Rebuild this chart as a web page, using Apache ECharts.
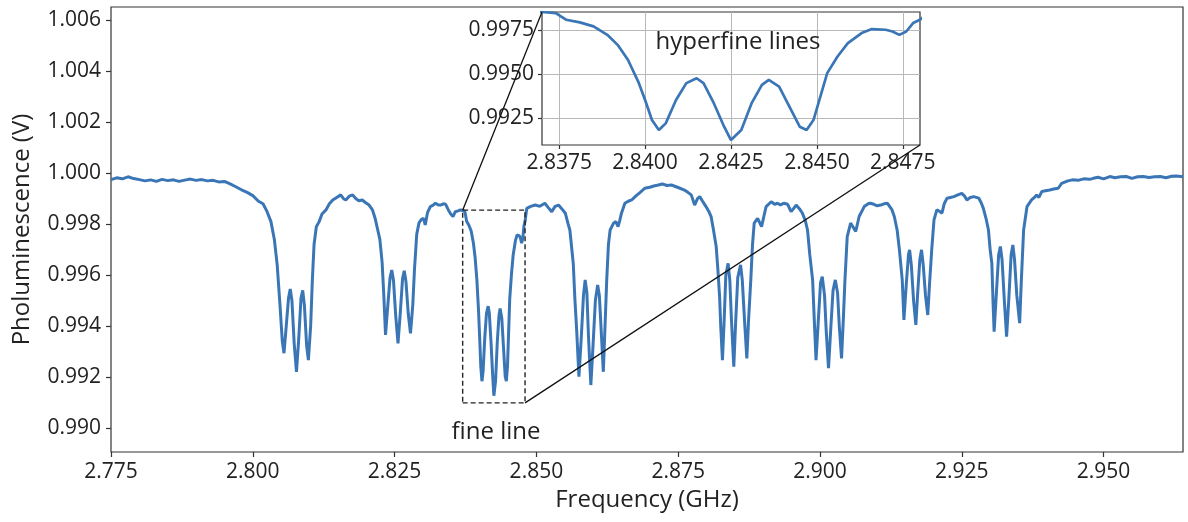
<!DOCTYPE html>
<html>
<head>
<meta charset="utf-8">
<script src="https://cdn.jsdelivr.net/npm/echarts@6/dist/echarts.min.js"></script>
<style>
html,body{margin:0;padding:0;background:#fff;}
#c{width:1188px;height:522px;}
</style>
</head>
<body>
<div id="c"></div>
<script>
// ---- data ----
const freq = [
2.7750,2.7760,2.7770,2.7780,2.7790,2.7800,2.7810,2.7820,2.7830,2.7840,2.7850,2.7860,2.7870,2.7880,2.7890,2.7900,2.7910,2.7920,2.7930,2.7940,2.7950,2.7960,2.7970,2.7980,2.7990,2.8000,2.8010,2.8018,2.8025,2.8032,2.8038,2.8043,2.8048,2.8052,2.8055,2.8059,2.8063,2.8066,2.8069,2.8073,2.8077,2.8081,2.8085,2.8088,2.8091,2.8095,2.8098,2.8102,2.8105,2.8108,2.8112,2.8117,2.8122,2.8129,2.8135,2.8141,2.8148,2.8155,2.8160,2.8164,2.8170,2.8176,2.8182,2.8187,2.8193,2.8199,2.8205,2.8211,2.8216,2.8220,2.8224,2.8228,2.8231,2.8234,2.8238,2.8242,2.8245,2.8248,2.8252,2.8256,2.8260,2.8264,2.8267,2.8270,2.8274,2.8278,2.8282,2.8285,2.8289,2.8293,2.8297,2.8301,2.8304,2.8308,2.8313,2.8318,2.8322,2.8327,2.8331,2.8336,2.8340,2.8345,2.8349,2.8353,2.8357,2.8362,2.8366,
2.8370,2.8374,2.8377,2.8381,2.8385,2.8389,2.8392,2.8395,2.8398,2.8400,2.8402,2.8404,2.8406,2.8409,2.8412,2.8415,2.8417,2.8420,2.8423,2.8425,2.8428,2.8431,2.8434,2.8436,2.8439,2.8442,2.8445,2.8447,2.8449,2.8451,2.8453,2.8456,2.8459,2.8463,2.8466,2.8470,2.8472,2.8474,2.8476,2.8478,2.8480,
2.8483,2.8490,2.8498,2.8506,2.8515,2.8521,2.8527,2.8533,2.8539,2.8545,2.8551,2.8556,2.8559,2.8565,2.8568,2.8571,2.8575,2.8579,2.8583,2.8586,2.8589,2.8592,2.8596,2.8600,2.8604,2.8608,2.8611,2.8615,2.8618,2.8621,2.8624,2.8627,2.8630,2.8636,2.8640,2.8644,2.8647,2.8650,2.8656,2.8662,2.8668,2.8675,2.8683,2.8691,2.8700,2.8707,2.8715,2.8722,2.8730,2.8738,2.8745,2.8752,2.8761,2.8767,2.8773,2.8779,2.8784,2.8788,2.8793,2.8799,2.8804,2.8808,2.8812,2.8817,2.8820,2.8823,2.8825,2.8828,2.8831,2.8834,2.8838,2.8841,2.8844,2.8848,2.8851,2.8855,2.8860,2.8863,2.8867,2.8871,2.8874,2.8878,2.8881,2.8884,2.8890,2.8897,2.8901,2.8905,2.8914,2.8920,2.8925,2.8930,2.8936,2.8943,2.8949,2.8953,2.8958,2.8964,2.8969,2.8974,2.8978,2.8982,2.8987,2.8990,2.8993,2.8997,2.9001,2.9004,2.9008,2.9011,2.9015,2.9019,2.9023,2.9027,2.9031,2.9034,2.9038,2.9041,2.9044,2.9048,2.9054,2.9058,2.9063,2.9069,2.9078,2.9085,2.9089,2.9095,2.9101,2.9107,2.9113,2.9119,2.9127,2.9131,2.9136,2.9140,2.9145,2.9148,2.9152,2.9156,2.9158,2.9161,2.9165,2.9169,2.9172,2.9176,2.9179,2.9182,2.9186,2.9190,2.9193,2.9197,2.9201,2.9206,2.9211,2.9215,2.9219,2.9224,2.9230,2.9236,2.9243,2.9250,2.9255,2.9259,2.9265,2.9271,2.9280,2.9284,2.9288,2.9293,2.9297,2.9300,2.9303,2.9305,2.9307,2.9311,2.9315,2.9318,2.9321,2.9325,2.9329,2.9333,2.9337,2.9340,2.9343,2.9347,2.9352,2.9355,2.9359,2.9365,2.9373,2.9378,2.9382,2.9386,2.9391,2.9400,2.9405,2.9412,2.9420,2.9426,2.9429,2.9437,2.9445,2.9455,2.9465,2.9475,2.9482,2.9490,2.9500,2.9511,2.9520,2.9530,2.9540,2.9550,2.9560,2.9570,2.9580,2.9590,2.9600,2.9610,2.9620,2.9628,2.9640
];
const pl = [
0.99975,0.99982,0.99978,0.99986,0.99979,0.99975,0.99970,0.99974,0.99968,0.99976,0.99971,0.99974,0.99968,0.99973,0.99977,0.99972,0.99975,0.99970,0.99972,0.99966,0.99968,0.99958,0.99947,0.99935,0.99925,0.99912,0.99890,0.99880,0.99850,0.99810,0.99740,0.99640,0.99480,0.99340,0.99293,0.99400,0.99510,0.99545,0.99500,0.99330,0.99220,0.99350,0.99510,0.99540,0.99480,0.99320,0.99266,0.99400,0.99581,0.99720,0.99790,0.99810,0.99840,0.99856,0.99880,0.99895,0.99905,0.99915,0.99900,0.99895,0.99910,0.99915,0.99900,0.99892,0.99895,0.99884,0.99875,0.99856,0.99820,0.99780,0.99740,0.99650,0.99520,0.99365,0.99480,0.99590,0.99620,0.99580,0.99440,0.99332,0.99450,0.99585,0.99617,0.99575,0.99450,0.99371,0.99480,0.99620,0.99760,0.99805,0.99818,0.99823,0.99797,0.99845,0.99869,0.99875,0.99882,0.99875,0.99875,0.99880,0.99878,0.99855,0.99840,0.99830,0.99849,0.99852,0.99856,
0.99855,0.99849,0.99811,0.99796,0.99773,0.99725,0.99668,0.99583,0.99459,0.99354,0.99240,0.99183,0.99221,0.99354,0.99450,0.99478,0.99450,0.99336,0.99202,0.99126,0.99183,0.99336,0.99440,0.99469,0.99430,0.99316,0.99202,0.99183,0.99240,0.99373,0.99507,0.99602,0.99678,0.99735,0.99758,0.99754,0.99744,0.99725,0.99744,0.99792,0.99811,
0.99862,0.99870,0.99875,0.99870,0.99882,0.99865,0.99849,0.99870,0.99875,0.99860,0.99843,0.99800,0.99777,0.99646,0.99500,0.99384,0.99201,0.99350,0.99520,0.99581,0.99530,0.99350,0.99168,0.99330,0.99500,0.99561,0.99520,0.99350,0.99220,0.99400,0.99581,0.99720,0.99777,0.99804,0.99810,0.99790,0.99815,0.99843,0.99882,0.99890,0.99895,0.99910,0.99925,0.99941,0.99945,0.99950,0.99954,0.99958,0.99952,0.99954,0.99948,0.99942,0.99934,0.99925,0.99915,0.99875,0.99900,0.99908,0.99890,0.99869,0.99850,0.99830,0.99780,0.99712,0.99620,0.99515,0.99400,0.99266,0.99420,0.99600,0.99646,0.99580,0.99420,0.99240,0.99400,0.99590,0.99640,0.99580,0.99420,0.99273,0.99420,0.99581,0.99720,0.99804,0.99823,0.99790,0.99830,0.99869,0.99888,0.99878,0.99882,0.99876,0.99882,0.99878,0.99849,0.99860,0.99875,0.99860,0.99843,0.99815,0.99777,0.99680,0.99581,0.99420,0.99266,0.99420,0.99570,0.99594,0.99520,0.99380,0.99234,0.99390,0.99540,0.99581,0.99530,0.99400,0.99273,0.99420,0.99581,0.99751,0.99804,0.99790,0.99771,0.99830,0.99869,0.99880,0.99882,0.99878,0.99872,0.99875,0.99880,0.99882,0.99856,0.99830,0.99777,0.99700,0.99581,0.99424,0.99560,0.99680,0.99699,0.99640,0.99500,0.99404,0.99520,0.99660,0.99699,0.99640,0.99520,0.99443,0.99560,0.99700,0.99817,0.99856,0.99850,0.99843,0.99880,0.99902,0.99905,0.99908,0.99915,0.99921,0.99910,0.99895,0.99905,0.99908,0.99902,0.99885,0.99862,0.99820,0.99777,0.99700,0.99646,0.99500,0.99378,0.99530,0.99680,0.99712,0.99660,0.99500,0.99358,0.99510,0.99680,0.99718,0.99660,0.99520,0.99411,0.99580,0.99777,0.99869,0.99895,0.99905,0.99915,0.99905,0.99928,0.99932,0.99934,0.99938,0.99941,0.99960,0.99967,0.99970,0.99974,0.99972,0.99978,0.99976,0.99980,0.99984,0.99978,0.99987,0.99982,0.99986,0.99987,0.99980,0.99986,0.99987,0.99983,0.99986,0.99987,0.99982,0.99988,0.99989,0.99986
];
const mainXRange = [2.775, 2.964];
const mainYRange = [0.98905, 1.00653];
const mainXTicks = [2.775, 2.800, 2.825, 2.850, 2.875, 2.900, 2.925, 2.950];
const mainYTicks = [0.990, 0.992, 0.994, 0.996, 0.998, 1.000, 1.002, 1.004, 1.006];
const insetX = [2.837, 2.848];
const insetY = [0.99098, 0.99855];
const insetXTicks = [2.8375, 2.8400, 2.8425, 2.8450, 2.8475];
const insetYTicks = [0.9925, 0.9950, 0.9975];
const xTitle = 'Frequency (GHz)';
const yTitle = 'Pholuminescence (V)';
const insetLabel = 'hyperfine lines';
const boxLabel = 'fine line';

// ---- chart ----
const FONT = 'Open Sans';
const TXT = '#222';
const AX = '#333';
const BLUE = '#3a76b6';
const pts = freq.map((f, i) => [f, pl[i]]);
const boxPts = [[insetX[0], insetY[0]], [insetX[1], insetY[0]], [insetX[1], insetY[1]], [insetX[0], insetY[1]], [insetX[0], insetY[0]]];

const chart = echarts.init(document.getElementById('c'), null, {renderer: 'canvas'});
const tickStyle = {color: AX, width: 1.2};
const option = {
  backgroundColor: '#fff',
  animation: false,
  grid: [
    {left: 111, top: 7, width: 1072, height: 445, show: true, borderColor: AX, borderWidth: 1.2, backgroundColor: 'transparent', outerBoundsMode: 'none', containLabel: false},
    {left: 542, top: 12, width: 378, height: 133, show: true, borderColor: AX, borderWidth: 1.2, backgroundColor: '#fff', outerBoundsMode: 'none', containLabel: false, z: 5}
  ],
  xAxis: [
    {type: 'value', gridIndex: 0, min: mainXRange[0], max: mainXRange[1],
     axisLine: {show: false}, splitLine: {show: false},
     axisTick: {show: true, length: 5, lineStyle: tickStyle, customValues: mainXTicks},
     axisLabel: {customValues: mainXTicks, formatter: v => v.toFixed(3), color: TXT, fontFamily: FONT, fontSize: 21, margin: 10},
     name: xTitle, nameLocation: 'middle', nameGap: 33, nameTextStyle: {color: TXT, fontFamily: FONT, fontSize: 24}},
    {type: 'value', gridIndex: 1, min: insetX[0], max: insetX[1], z: 6,
     axisLine: {show: false},
     splitLine: {show: true, lineStyle: {color: '#b8b8b8', width: 1}},
     axisTick: {show: true, length: 4, lineStyle: tickStyle, customValues: insetXTicks},
     axisLabel: {customValues: insetXTicks, formatter: v => v.toFixed(4), color: TXT, fontFamily: FONT, fontSize: 21, margin: 8, hideOverlap: false}}
  ],
  yAxis: [
    {type: 'value', gridIndex: 0, min: mainYRange[0], max: mainYRange[1],
     axisLine: {show: false}, splitLine: {show: false},
     axisTick: {show: true, length: 5, lineStyle: tickStyle, customValues: mainYTicks},
     axisLabel: {customValues: mainYTicks, formatter: v => v.toFixed(3), color: TXT, fontFamily: FONT, fontSize: 21, margin: 10},
     name: yTitle, nameLocation: 'middle', nameGap: 77, nameTextStyle: {color: TXT, fontFamily: FONT, fontSize: 24}},
    {type: 'value', gridIndex: 1, min: insetY[0], max: insetY[1], z: 6,
     axisLine: {show: false},
     splitLine: {show: true, lineStyle: {color: '#b8b8b8', width: 1}},
     axisTick: {show: true, length: 4, lineStyle: tickStyle, customValues: insetYTicks},
     axisLabel: {customValues: insetYTicks, formatter: v => v.toFixed(4), color: TXT, fontFamily: FONT, fontSize: 21, margin: 8}}
  ],
  series: [
    {type: 'line', xAxisIndex: 0, yAxisIndex: 0, data: pts, showSymbol: false, symbol: 'none',
     lineStyle: {color: BLUE, width: 3}, z: 3, silent: true},
    {type: 'line', xAxisIndex: 0, yAxisIndex: 0, data: boxPts, showSymbol: false, symbol: 'none',
     lineStyle: {color: '#222', width: 1.4, type: [5, 3]}, z: 4, silent: true},
    {type: 'line', xAxisIndex: 1, yAxisIndex: 1, data: pts, showSymbol: false, symbol: 'none', clip: true,
     lineStyle: {color: BLUE, width: 2.7}, z: 7, silent: true}
  ]
};
chart.setOption(option);

const p1 = chart.convertToPixel({xAxisIndex: 0, yAxisIndex: 0}, [insetX[0], insetY[1]]);
const q1 = chart.convertToPixel({xAxisIndex: 1, yAxisIndex: 1}, [insetX[0], insetY[1]]);
const p2 = chart.convertToPixel({xAxisIndex: 0, yAxisIndex: 0}, [insetX[1], insetY[0]]);
const q2 = chart.convertToPixel({xAxisIndex: 1, yAxisIndex: 1}, [insetX[1], insetY[0]]);
chart.setOption({
  graphic: [
    {type: 'line', shape: {x1: p1[0], y1: p1[1], x2: q1[0], y2: q1[1]}, style: {stroke: '#111', lineWidth: 1.3}, z: 100},
    {type: 'line', shape: {x1: p2[0], y1: p2[1], x2: q2[0], y2: q2[1]}, style: {stroke: '#111', lineWidth: 1.3}, z: 100},
    {type: 'text', x: 738, y: 42, z: 100, style: {text: insetLabel, fill: TXT, font: '24px "Open Sans"', align: 'center', verticalAlign: 'middle'}},
    {type: 'text', x: 496, y: 432, z: 100, style: {text: boxLabel, fill: TXT, font: '24px "Open Sans"', align: 'center', verticalAlign: 'middle'}}
  ]
});
</script>
</body>
</html>
